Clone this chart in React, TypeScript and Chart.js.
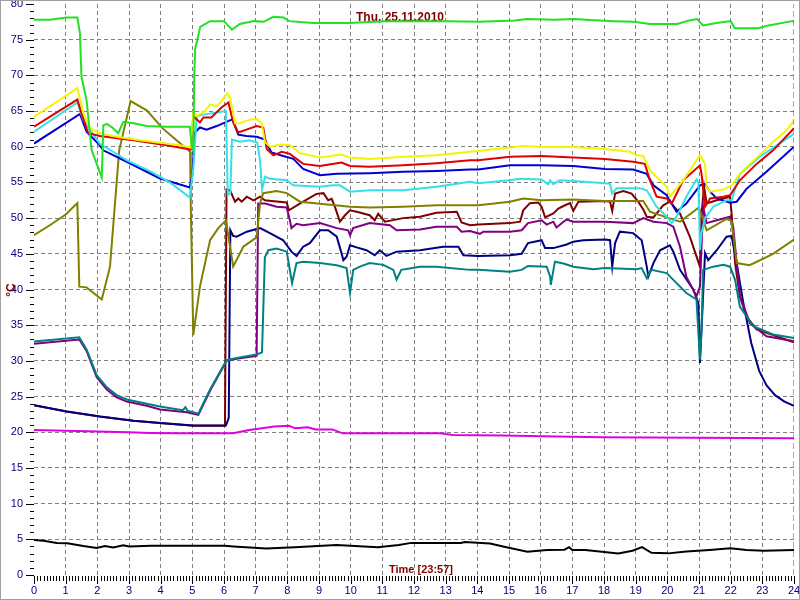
import React, { useEffect, useRef } from 'react';
import { Chart, registerables } from 'chart.js';
Chart.register(...registerables);

type P = [number, number];

const TITLE = 'Thu, 25.11.2010';
const X_TITLE = 'Time [23:57]';
const Y_TITLE = '°C';

const xTickValues = [0, 1, 2, 3, 4, 5, 6, 7, 8, 9, 10, 11, 12, 13, 14, 15, 16, 17, 18, 19, 20, 21, 22, 23, 24];
const yTickValues = [0, 5, 10, 15, 20, 25, 30, 35, 40, 45, 50, 55, 60, 65, 70, 75, 80];

const nowMarker: P[] = [[24, 0], [24, 80]];

const green: P[] = [[0,77.8],[0.5,77.8],[1.03,78.1],[1.37,78.1],[1.45,75.9],[1.5,69.8],[1.66,66.5],[1.82,59.5],[2.14,55.7],[2.19,63.0],[2.3,63.2],[2.5,62.6],[2.66,61.9],[2.82,63.5],[3.14,63.3],[3.56,62.9],[4.19,62.8],[4.92,62.8],[4.98,60.1],[5.03,59.5],[5.06,70],[5.09,73.7],[5.25,76.8],[5.56,77.6],[6.0,77.6],[6.25,76.4],[6.5,77.2],[6.94,77.6],[7.25,77.5],[7.56,78.2],[7.88,78.1],[8.06,77.6],[8.81,77.35],[9.94,77.35],[11.06,77.6],[12.06,77.6],[13.06,77.6],[14.06,77.5],[15.19,77.7],[15.56,77.9],[16.44,77.8],[17.06,77.9],[17.56,77.75],[18.31,77.6],[18.94,77.5],[19.44,77.2],[20.31,77.2],[20.69,77.7],[20.94,77.9],[21.13,77.0],[21.56,77.35],[22.0,77.6],[22.13,76.6],[22.88,76.6],[23.19,77.0],[23.94,77.6],[24,77.6]];

const yellow: P[] = [[0,64.2],[1.37,68.2],[1.56,64.7],[1.77,62.6],[2.08,61.9],[2.61,61.4],[3.35,60.9],[4.6,60.2],[4.95,59.9],[5.03,64.8],[5.14,64.3],[5.4,65],[5.56,65.95],[5.77,65.7],[5.92,66.4],[6.1,67.5],[6.19,66.9],[6.35,63.3],[6.5,63.3],[6.82,63.8],[7.03,63.9],[7.19,63.3],[7.29,60.7],[7.45,60.0],[7.77,60.3],[8.08,60.2],[8.4,59.1],[9.03,58.5],[9.71,58.9],[9.98,58.5],[10.6,58.3],[11.66,58.6],[12.71,58.8],[13.77,59.3],[14.03,59.4],[15.03,59.9],[15.45,60.1],[16.03,59.95],[17.03,59.95],[18.03,59.7],[18.82,59.3],[19.03,58.8],[19.24,58.7],[19.45,56.7],[19.98,54.4],[20.08,53.0],[20.5,55.3],[21.03,58.8],[21.19,57.6],[21.24,54.4],[21.35,53.7],[21.77,54.0],[22.03,54.6],[22.29,56.2],[22.61,57.6],[23.03,59.3],[23.34,60.7],[23.77,62.3],[24,63.7]];

const red: P[] = [[0,62.8],[1.37,66.6],[1.5,64.7],[1.71,61.9],[2.08,61.5],[3.14,60.9],[4.19,60.2],[4.95,59.6],[5.03,64.3],[5.08,64.1],[5.24,63.4],[5.35,64.1],[5.6,64.1],[5.92,65.5],[6.14,66.2],[6.29,63.4],[6.45,62.0],[6.71,62.4],[7.03,62.9],[7.24,62.7],[7.35,59.7],[7.56,58.8],[7.82,59.3],[8.08,59.0],[8.5,57.6],[9.03,57.3],[9.71,57.8],[9.98,57.3],[10.6,57.2],[11.66,57.4],[12.71,57.7],[13.77,58.1],[14.03,58.1],[15.03,58.6],[16.03,58.7],[17.03,58.5],[18.03,58.3],[18.92,57.9],[19.29,57.6],[19.45,55.3],[19.66,53.0],[19.98,52.75],[20.14,52.05],[20.5,55.3],[21.03,57.4],[21.08,56.2],[21.19,51.6],[21.35,52.75],[21.77,53.0],[21.98,53.2],[22.29,55.3],[22.82,57.6],[23.34,59.5],[24,62.6]];

const cyan: P[] = [[0,62.1],[1.37,66.2],[1.56,63.7],[2.08,60.4],[2.5,59.3],[2.93,58.1],[3.66,56.6],[4.29,55.0],[4.92,52.9],[5.03,57],[5.14,64.3],[5.35,64.5],[5.77,64.8],[6.06,65.0],[6.12,53.2],[6.2,53.5],[6.25,61.0],[6.5,60.7],[6.8,60.9],[7.05,60.6],[7.14,58],[7.2,54],[7.3,55.8],[7.45,55.5],[7.98,55.3],[8.19,54.6],[9.03,54.4],[9.45,54.6],[9.66,54.6],[9.98,53.7],[10.6,53.9],[11.66,53.9],[12.71,54.4],[13.77,55.1],[14.03,54.9],[15.03,55.3],[15.35,55.5],[16.03,55.4],[16.24,54.75],[16.3,55.3],[16.4,54.75],[16.6,55.3],[17.03,55.2],[18.03,54.9],[18.19,54.8],[18.26,53.45],[18.4,54.2],[19.13,54.2],[19.35,53.9],[19.66,51.6],[19.98,50.2],[20.14,49.3],[20.29,50.2],[20.6,53.0],[20.92,55.4],[20.98,55.0],[21.03,45.5],[21.08,47.9],[21.19,50.0],[21.45,51.6],[21.87,52.5],[22.03,52.5],[22.29,56.2],[22.92,58.6],[24,61.8]];

const blue: P[] = [[0,60.45],[1.45,64.6],[1.66,62.1],[2.08,60.2],[2.19,59.5],[2.93,57.9],[3.98,55.55],[4.92,54.3],[5.0,56],[5.08,62.0],[5.24,62.7],[5.45,62.4],[5.77,62.9],[6.24,63.8],[6.29,63.6],[6.45,61.7],[6.71,61.5],[7.03,61.4],[7.29,61.0],[7.5,59.2],[7.87,58.7],[8.19,58.3],[8.5,56.9],[9.03,56.0],[9.56,56.2],[10.6,56.3],[11.66,56.5],[12.71,56.6],[13.77,56.8],[14.03,56.8],[15.03,57.4],[16.03,57.4],[17.03,57.3],[18.03,56.9],[18.92,56.8],[19.35,56.2],[19.56,54.6],[19.98,53.2],[20.29,50.9],[20.6,52.05],[21.03,54.6],[21.19,54.8],[21.35,53.7],[21.56,52.75],[21.98,52.15],[22.19,52.3],[22.5,54.1],[23.13,56.5],[24,60.0]];

const olive: P[] = [[0,47.6],[0.5,49],[1.0,50.5],[1.37,52.1],[1.43,40.4],[1.66,40.3],[2.14,38.6],[2.4,43.2],[2.69,59.5],[3.05,66.4],[3.56,65.1],[4.08,62.5],[4.5,60.9],[4.93,59.3],[4.95,52],[5.03,33.6],[5.24,40.4],[5.56,46.9],[5.82,48.6],[6.06,49.7],[6.29,43.2],[6.61,46.0],[7.03,47.3],[7.14,52.1],[7.24,53.5],[7.66,53.8],[7.98,53.5],[8.4,52.3],[9.03,52.0],[9.98,51.6],[10.6,51.5],[11.66,51.6],[12.71,51.8],[14.03,51.8],[15.03,52.3],[15.45,52.75],[16.03,52.5],[17.03,52.6],[18.03,52.4],[19.24,52.4],[19.45,50.9],[19.98,50.1],[20.4,49.5],[21.0,51.5],[21.24,48.3],[21.87,49.9],[22.03,49.6],[22.19,43.7],[22.6,43.4],[23.34,45.0],[24,47.0]];

const maroon: P[] = [[0,23.8],[1.03,22.9],[2.08,22.2],[3.14,21.6],[3.98,21.3],[5.03,20.9],[6.03,20.9],[6.08,54.0],[6.19,53.9],[6.35,52.3],[6.45,52.75],[6.56,52.3],[6.72,53.0],[6.93,52.5],[7.14,53.0],[7.29,52.5],[7.5,52.4],[7.98,52.2],[8.05,51.1],[8.5,52.3],[8.92,53.4],[9.14,53.5],[9.29,52.5],[9.4,52.7],[9.5,51.6],[9.66,49.5],[9.82,50.4],[9.98,51.1],[10.19,50.9],[10.6,50.4],[10.76,49.7],[10.87,50.6],[11.08,49.5],[11.66,50.0],[12.19,50.2],[12.71,50.75],[13.35,50.9],[13.5,49.4],[13.77,49.0],[14.03,49.1],[15.03,49.3],[15.35,49.5],[15.45,51.1],[15.66,52.1],[15.92,52.2],[16.03,51.6],[16.14,50.1],[16.4,50.65],[16.56,51.35],[16.77,51.8],[16.93,52.1],[17.03,51.0],[17.19,52.3],[18.03,52.4],[18.19,52.3],[18.26,51.0],[18.35,53.45],[18.61,53.8],[18.87,53.45],[19.08,52.3],[19.24,51.2],[19.35,50.2],[19.56,50.1],[19.87,51.8],[20.08,52.3],[20.4,50.65],[20.71,47.4],[21.03,43.2],[21.08,50.65],[21.16,54.4],[21.24,52.05],[21.56,52.5],[21.98,53.0],[22.03,50.65],[22.14,43.7],[22.29,39.05],[22.5,36.2],[22.82,34.4],[24,32.6]];

const purple: P[] = [[0,32.4],[1.43,33.0],[1.66,31.4],[1.98,27.7],[2.3,26.0],[2.61,24.9],[2.93,24.3],[3.56,23.7],[3.98,23.2],[4.82,22.8],[5.19,22.45],[5.56,25.8],[6.08,30.0],[6.4,30.3],[7.03,30.7],[7.08,52.05],[7.3,52.05],[7.66,51.6],[7.98,51.5],[8.08,49.7],[8.13,48.6],[8.29,49.2],[8.5,49.0],[9.03,49.3],[9.56,48.6],[9.92,48.3],[9.98,47.6],[10.08,48.6],[10.6,49.3],[11.24,49.0],[11.45,48.3],[12.19,48.4],[12.71,48.8],[13.35,48.8],[13.5,48.1],[13.77,48.2],[14.08,47.8],[14.19,48.1],[15.03,48.1],[15.4,48.3],[15.6,49.3],[16.03,49.7],[16.19,49.1],[16.4,49.5],[16.5,48.7],[16.72,49.5],[16.82,49.8],[17.03,49.5],[18.03,49.5],[18.92,49.3],[19.24,50.0],[19.56,49.5],[19.98,49.3],[20.19,48.8],[20.4,46.0],[20.6,41.8],[20.92,39.05],[21.03,40.4],[21.13,51.6],[21.24,49.3],[21.56,49.7],[21.98,50.2],[22.08,48.8],[22.29,39.05],[22.61,35.3],[23.13,33.45],[24,32.75]];

const navy: P[] = [[0,23.8],[1.03,22.9],[2.08,22.2],[3.14,21.6],[3.98,21.3],[5.03,20.95],[6.06,20.95],[6.15,22],[6.2,48.3],[6.29,47.5],[6.4,47.4],[6.72,48.1],[7.14,48.6],[7.45,47.9],[7.87,46.9],[8.13,45.3],[8.29,44.7],[8.5,46.0],[8.71,46.5],[9.03,48.3],[9.29,48.3],[9.56,47.4],[9.71,45.1],[9.77,44.1],[9.87,44.6],[9.98,46.2],[10.19,45.9],[10.5,45.5],[10.76,44.8],[10.92,45.5],[11.13,44.7],[11.45,45.3],[12.19,45.5],[12.92,46.0],[13.4,46.0],[13.56,44.8],[14.03,44.7],[15.03,44.8],[15.4,45.0],[15.6,46.5],[16.03,46.9],[16.14,45.8],[16.4,45.8],[16.82,46.3],[17.03,46.7],[17.35,46.9],[18.03,47.0],[18.19,46.9],[18.26,43.2],[18.35,46.5],[18.5,48.1],[18.92,47.9],[19.19,46.9],[19.35,43.2],[19.4,41.8],[19.56,43.7],[19.77,45.5],[20.08,46.2],[20.19,45.3],[20.4,42.75],[20.82,40.0],[20.98,38.1],[21.03,29.7],[21.08,34.4],[21.19,45.1],[21.29,44.1],[21.56,45.5],[21.87,47.4],[22.03,47.5],[22.19,43.7],[22.4,38.1],[22.65,32.5],[22.9,28.6],[23.13,26.6],[23.4,25.2],[23.7,24.3],[24,23.7]];

const teal: P[] = [[0,32.7],[1.43,33.3],[1.66,31.6],[1.98,28.0],[2.3,26.3],[2.61,25.2],[2.93,24.6],[3.56,24.0],[3.98,23.6],[4.7,23.1],[4.78,23.5],[4.85,23.0],[5.19,22.6],[5.56,26.0],[6.08,30.1],[6.4,30.4],[7.03,30.9],[7.2,31.2],[7.29,44.5],[7.4,45.5],[7.66,45.75],[7.98,45.3],[8.08,42.7],[8.15,40.9],[8.29,43.7],[8.5,43.9],[9.03,43.7],[9.56,43.4],[9.87,43.0],[9.98,39.5],[10.08,42.75],[10.29,43.2],[10.6,43.7],[11.03,43.45],[11.35,42.75],[11.45,41.4],[11.6,42.75],[12.19,43.2],[12.71,43.2],[13.77,42.75],[14.03,42.75],[15.03,42.5],[15.4,42.75],[15.6,43.3],[16.19,43.2],[16.3,41.8],[16.32,40.65],[16.45,43.9],[16.72,43.65],[17.03,43.2],[17.66,42.85],[18.03,43.0],[19.03,42.85],[19.19,43.0],[19.35,41.6],[19.5,42.75],[19.98,42.3],[20.19,41.35],[20.6,39.5],[20.92,38.6],[21.03,30.2],[21.08,34.4],[21.13,42.75],[21.45,43.2],[21.77,43.45],[21.98,43.2],[22.14,41.35],[22.29,37.6],[22.71,34.85],[23.34,33.7],[24,33.2]];

const magenta: P[] = [[0,20.3],[1,20.2],[2,20.1],[3,20.0],[3.66,19.9],[4.58,19.85],[6.28,19.85],[6.8,20.3],[7.59,20.8],[8.05,20.9],[8.25,20.55],[8.64,20.7],[8.9,20.4],[9.42,20.4],[9.75,19.85],[12.83,19.85],[13.22,19.6],[14.79,19.55],[16.49,19.4],[17.93,19.3],[19.37,19.25],[24,19.15]];

const black: P[] = [[0,4.9],[0.3,4.8],[0.72,4.5],[1.05,4.45],[1.56,4.06],[1.98,3.8],[2.24,4.06],[2.5,3.85],[2.82,4.15],[3.0,4.0],[3.7,4.1],[4.97,4.1],[6.02,4.1],[6.3,4.0],[7.33,3.73],[8.24,3.9],[9.55,4.2],[10.86,3.88],[11.52,4.2],[11.91,4.5],[12.83,4.5],[13.48,4.5],[13.6,4.62],[14.4,4.4],[14.92,3.9],[15.58,3.26],[16.2,3.5],[16.75,3.55],[16.9,3.9],[17.0,3.5],[17.41,3.5],[18.45,3.03],[18.9,3.4],[19.2,3.9],[19.5,3.1],[20.03,3.03],[20.6,3.3],[21.33,3.5],[21.99,3.73],[22.5,3.5],[23.04,3.4],[24,3.5]];

const FONT = '"Liberation Sans", Arial, sans-serif';

export default function App() {
  const ref = useRef<HTMLCanvasElement>(null);

  useEffect(() => {
    const canvas = ref.current;
    if (!canvas) return;
    const toXY = (arr: P[]) => arr.map(([x, y]) => ({ x, y }));
    const series: { data: P[]; color: string; width: number; dash?: number[] }[] = [
      { data: nowMarker, color: '#009000', width: 1, dash: [6, 3] },
      { data: green, color: '#22e022', width: 2 },
      { data: yellow, color: '#f4f400', width: 2 },
      { data: red, color: '#e00000', width: 2 },
      { data: cyan, color: '#33e0e8', width: 2 },
      { data: blue, color: '#0000d0', width: 2 },
      { data: olive, color: '#808000', width: 2 },
      { data: teal, color: '#008080', width: 2 },
      { data: purple, color: '#800080', width: 2 },
      { data: navy, color: '#000080', width: 2 },
      { data: maroon, color: '#800000', width: 2 },
      { data: magenta, color: '#e000e0', width: 2 },
      { data: black, color: '#000000', width: 2 },
    ];

    const decor = {
      id: 'decor',
      beforeDraw(chart: any) {
        const { ctx, width, height } = chart;
        ctx.save();
        ctx.fillStyle = '#ffffff';
        ctx.fillRect(0, 0, width, height);
        ctx.restore();
      },
      beforeDatasetsDraw(chart: any) {
        const { ctx } = chart;
        ctx.save();
        ctx.fillStyle = '#800000';
        ctx.textAlign = 'center';
        ctx.textBaseline = 'alphabetic';
        ctx.font = `bold 12px ${FONT}`;
        ctx.fillText(TITLE, 400, 21);
        ctx.font = `bold 11px ${FONT}`;
        ctx.fillText(X_TITLE, 421, 573);
        ctx.translate(15, 290);
        ctx.rotate(-Math.PI / 2);
        ctx.font = `bold 12px ${FONT}`;
        ctx.fillText(Y_TITLE, 0, 0);
        ctx.restore();
      },
      afterDraw(chart: any) {
        const { ctx, chartArea } = chart;
        const xs = chart.scales.x;
        const ys = chart.scales.y;
        ctx.save();
        ctx.strokeStyle = '#000000';
        ctx.lineWidth = 1;
        ctx.beginPath();
        for (let i = 0; i <= 80; i++) {
          const py = Math.round(ys.getPixelForValue(i)) + 0.5;
          const len = i % 5 === 0 ? 8 : 4;
          ctx.moveTo(chartArea.left - len, py);
          ctx.lineTo(chartArea.left, py);
        }
        for (let i = 0; i <= 240; i++) {
          const px = Math.round(xs.getPixelForValue(i / 10)) + 0.5;
          const len = i % 10 === 0 ? 8 : 5;
          ctx.moveTo(px, chartArea.bottom + 1);
          ctx.lineTo(px, chartArea.bottom + 1 + len);
        }
        ctx.stroke();
        ctx.strokeStyle = '#a0a0a0';
        ctx.strokeRect(0.5, 0.5, chart.width - 1, chart.height - 1);
        ctx.restore();
      },
    };

    const gridColor = (edge: number[]) => (c: any) =>
      c.tick && edge.includes(c.tick.value) ? 'rgba(0,0,0,0)' : '#808080';

    const chart = new Chart(canvas, {
      type: 'line',
      data: {
        datasets: series.map((s) => ({
          data: toXY(s.data),
          borderColor: s.color,
          backgroundColor: s.color,
          borderWidth: s.width,
          borderDash: s.dash || [],
          pointRadius: 0,
          tension: 0,
          fill: false,
        })),
      },
      options: {
        animation: false,
        responsive: false,
        layout: { padding: { top: 4, right: 6, left: 0, bottom: 0 } },
        plugins: { legend: { display: false }, tooltip: { enabled: false } },
        events: [],
        scales: {
          x: {
            type: 'linear',
            min: 0,
            max: 24,
            afterBuildTicks: (s: any) => { s.ticks = xTickValues.map((v) => ({ value: v })); },
            afterFit: (s: any) => { s.height = 25; s.paddingLeft = 0; s.paddingRight = 0; },
            ticks: { color: '#000080', font: { family: FONT, size: 11 }, padding: 9, maxRotation: 0, autoSkip: false },
            grid: { color: gridColor([0, 24]), drawTicks: false, lineWidth: 1 },
            border: { display: false, dash: [4, 3] },
          },
          y: {
            type: 'linear',
            min: 0,
            max: 80,
            afterBuildTicks: (s: any) => { s.ticks = yTickValues.map((v) => ({ value: v })); },
            afterFit: (s: any) => { s.width = 34; s.paddingTop = 0; s.paddingBottom = 0; },
            ticks: { color: '#000080', font: { family: FONT, size: 11 }, padding: 11, autoSkip: false },
            grid: { color: gridColor([0, 80]), drawTicks: false, lineWidth: 1 },
            border: { display: false, dash: [4, 3] },
          },
        },
      },
      plugins: [decor],
    } as any);
    return () => chart.destroy();
  }, []);

  return (
    <div style={{ position: 'fixed', left: 0, top: 0, width: 800, height: 600 }}>
      <canvas ref={ref} width={800} height={600} style={{ display: 'block', width: 800, height: 600 }} />
    </div>
  );
}
